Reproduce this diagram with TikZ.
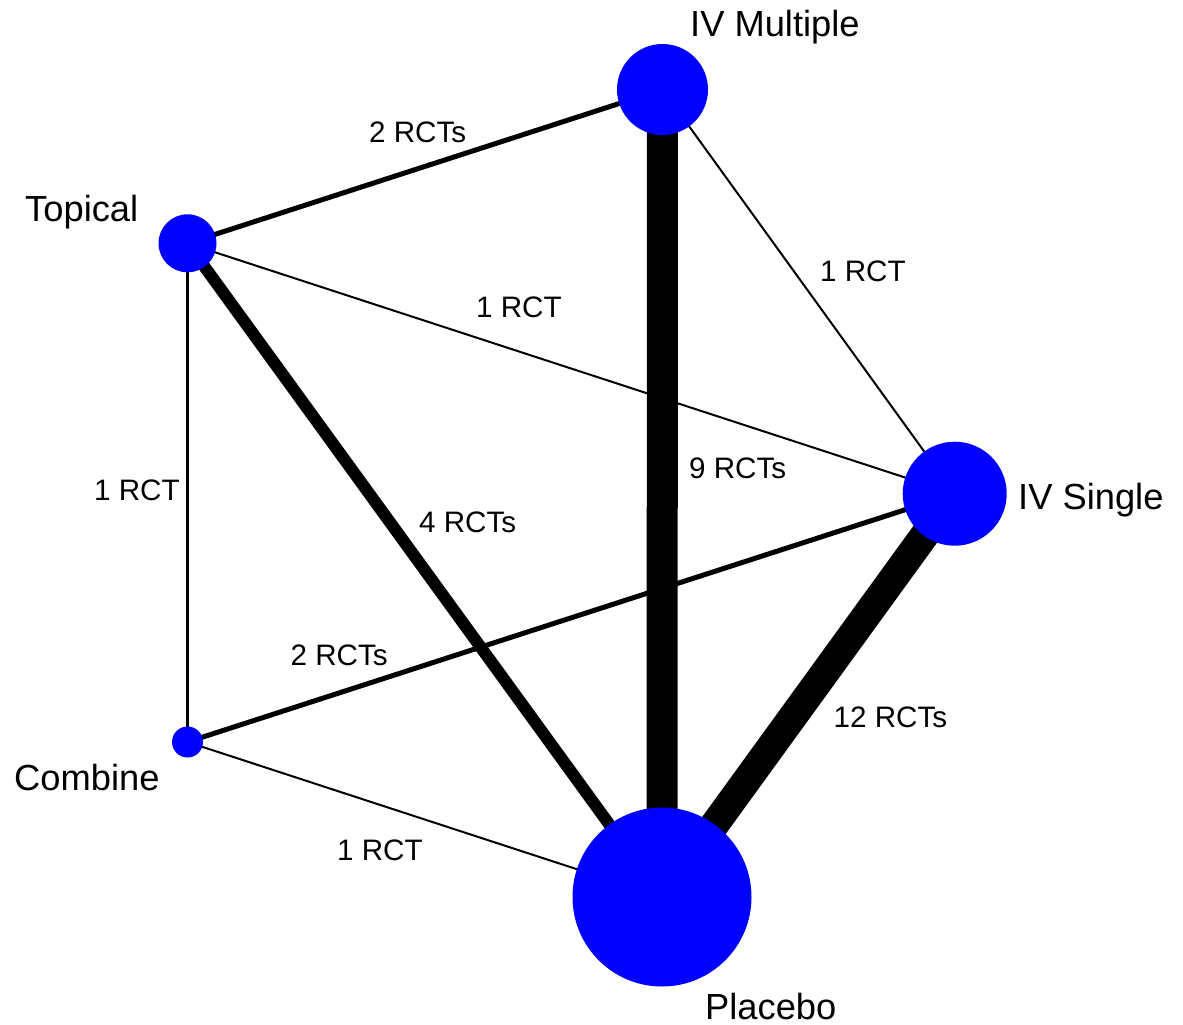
\documentclass[tikz,border=0pt]{standalone}
\usepackage{fontspec}
\setmainfont{Liberation Sans}
\usetikzlibrary{backgrounds}
\definecolor{nodeblue}{RGB}{0,0,255}
\begin{document}
\begin{tikzpicture}[x=1pt,y=-1pt,
  trt/.style={circle,fill=nodeblue,draw=none,inner sep=0pt,minimum size=#1},
  trtlabel/.style={anchor=base west,inner sep=0pt,font=\fontsize{36.3}{40}\selectfont},
  edgelabel/.style={anchor=base west,inner sep=0pt,font=\fontsize{29.6}{33}\selectfont},
  link/.style={draw=black,line width=#1}]
\useasboundingbox (0,0) rectangle (1183,1025);
% treatment nodes
\node[trt=91pt]  (ivm) at (662.5,89.5) {};
\node[trt=58pt]  (top) at (187.5,243.3) {};
\node[trt=104pt] (ivs) at (954.7,493.7) {};
\node[trt=31pt]  (com) at (187.5,742) {};
\node[trt=179pt] (pla) at (662,897) {};
% connectors
\begin{scope}[on background layer]
\draw[link=5pt]   (top.center) -- (ivm.center);
\draw[link=2pt]   (ivm.center) -- (ivs.center);
\draw[link=2pt]   (top.center) -- (ivs.center);
\draw[link=2.5pt] (top.center) -- (com.center);
\draw[link=12pt]  (top.center) -- (pla.center);
\draw[link=31pt]  (ivm.center) -- (pla.center);
\draw[link=29pt]  (ivs.center) -- (pla.center);
\draw[link=5pt]   (com.center) -- (ivs.center);
\draw[link=2pt]   (com.center) -- (pla.center);
\end{scope}
% treatment labels
\node[trtlabel] (livm) at (690,37) {IV Multiple};
\node[trtlabel] (ltop) at (25,221) {Topical};
\node[trtlabel] (livs) at (1018,509) {IV Single};
\node[trtlabel] (lcom) at (14,790) {Combine};
\node[trtlabel] (lpla) at (705,1019.5) {Placebo};
% connector labels
\node[edgelabel] (e1) at (369,142.7) {2 RCTs};
\node[edgelabel] (e2) at (820,281) {1 RCT};
\node[edgelabel] (e3) at (476,317.7) {1 RCT};
\node[edgelabel] (e4) at (689,478.3) {9 RCTs};
\node[edgelabel] (e5) at (94,500) {1 RCT};
\node[edgelabel] (e6) at (419,532) {4 RCTs};
\node[edgelabel] (e7) at (290.5,665) {2 RCTs};
\node[edgelabel] (e8) at (833.5,727.3) {12 RCTs};
\node[edgelabel] (e9) at (337,860.7) {1 RCT};
\end{tikzpicture}
\end{document}
